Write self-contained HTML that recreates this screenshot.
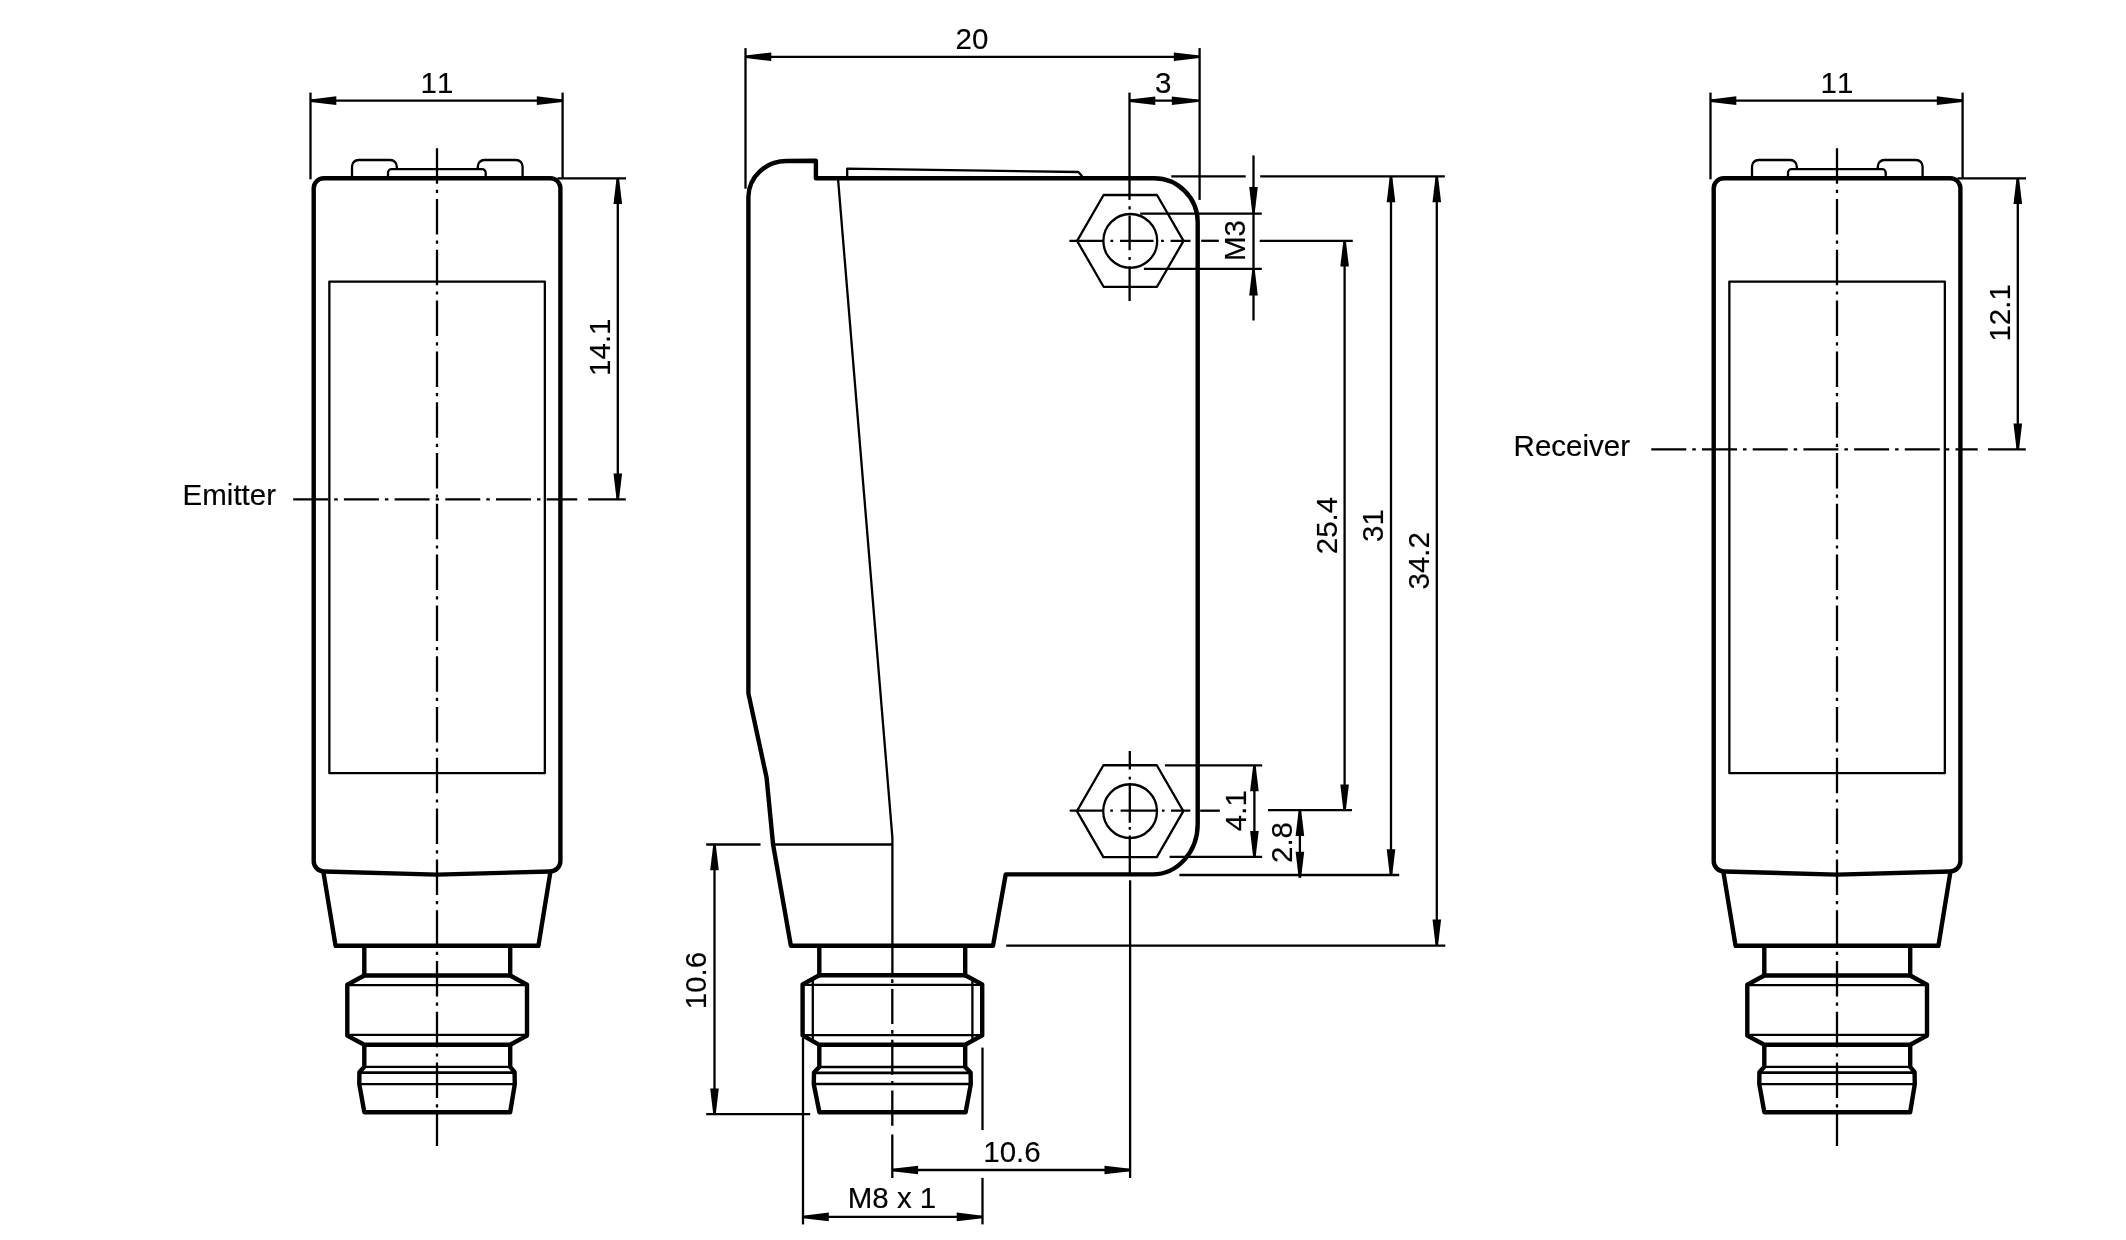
<!DOCTYPE html>
<html lang="en">
<head>
<meta charset="utf-8">
<title>Dimensions</title>
<style>
html,body{margin:0;padding:0;background:#fff;}
body{width:2126px;height:1240px;overflow:hidden;}
svg{display:block;filter:grayscale(1);}
.k{fill:none;stroke:#000;stroke-width:4.4;stroke-linejoin:round;stroke-linecap:butt;}
.m{fill:none;stroke:#000;stroke-width:2.7;}
.n{fill:none;stroke:#000;stroke-width:2.3;stroke-linejoin:round;stroke-linecap:butt;}
.a{fill:#000;stroke:none;}
text{font-family:"Liberation Sans",Arial,Helvetica,sans-serif;font-size:29.5px;fill:#000;stroke:#000;stroke-width:0.15px;font-kerning:none;}
</style>
</head>
<body>
<svg width="2126" height="1240" viewBox="0 0 2126 1240">
<rect x="0" y="0" width="2126" height="1240" fill="#fff"/>
<!-- left view -->
<line class="n" x1="310.50" y1="92.60" x2="310.50" y2="179.30"/>
<line class="n" x1="562.60" y1="92.60" x2="562.60" y2="179.00"/>
<line class="n" x1="310.50" y1="100.65" x2="562.60" y2="100.65"/>
<polygon class="a" points="310.50,99.40 310.50,101.90 336.30,104.95 336.30,96.35"/>
<polygon class="a" points="562.60,99.40 562.60,101.90 536.80,104.95 536.80,96.35"/>
<text x="437.00" y="92.80" text-anchor="middle">11</text>
<path class="n" d="M352.00,178 V166.5 A6.5,6.5 0 0 1 358.50,160 H390.30 A6.5,6.5 0 0 1 396.80,166.5 V168.5"/>
<path class="n" d="M477.80,168.5 V166.5 A6.5,6.5 0 0 1 484.30,160 H516.10 A6.5,6.5 0 0 1 522.60,166.5 V178"/>
<path class="n" d="M388.00,178 V172.7 A3.5,3.5 0 0 1 391.50,169.2 H482.20 A3.5,3.5 0 0 1 485.70,172.7 V178"/>
<path class="k" d="M313.70,188.3 A10,10 0 0 1 323.70,178.3 H550.40 A10,10 0 0 1 560.40,188.3 V861 A10.5,10.5 0 0 1 549.90,871.5 L437.00,874.6 L324.20,871.5 A10.5,10.5 0 0 1 313.70,861 Z"/>
<rect class="n" x="329.35" y="281.6" width="215.5" height="491.6"/>
<path class="k" d="M323.40,872.0 L335.60,945.8 H538.40 L550.40,872.0"/>
<path class="k" d="M364.30,945.8 V975.5 H510.20 V945.8"/>
<path class="k" d="M364.30,975.5 L347.30,984.7 V1035.6 L364.30,1044.8 H510.20 L527.00,1035.6 V984.7 L510.20,975.5"/>
<line class="n" x1="347.30" y1="985.10" x2="527.00" y2="985.10"/>
<line class="n" x1="347.30" y1="1034.90" x2="527.00" y2="1034.90"/>
<path class="k" d="M364.30,1044.8 V1066.8 L359.40,1072.2 L359.30,1084.2 L364.30,1112.2 H510.20 L514.80,1084.2 L514.60,1072.2 L510.20,1066.8 V1044.8"/>
<line class="n" x1="364.30" y1="1066.80" x2="510.20" y2="1066.80"/>
<line class="m" x1="359.40" y1="1072.70" x2="514.60" y2="1072.70"/>
<line class="n" x1="359.30" y1="1084.20" x2="514.80" y2="1084.20"/>
<line class="n" x1="437.00" y1="148.20" x2="437.00" y2="1146.00" stroke-dasharray="35.5 6.1 3.2 6.0" stroke-dashoffset="0"/>
<line class="n" x1="293.20" y1="499.30" x2="577.20" y2="499.30" stroke-dasharray="35 6 3.5 6.2" stroke-dashoffset="0"/>
<line class="n" x1="588.20" y1="499.30" x2="625.80" y2="499.30"/>
<text x="182.60" y="504.80" text-anchor="start">Emitter</text>
<line class="n" x1="557.50" y1="178.30" x2="626.00" y2="178.30"/>
<line class="n" x1="617.80" y1="178.30" x2="617.80" y2="499.30"/>
<polygon class="a" points="616.55,178.30 619.05,178.30 622.10,204.10 613.50,204.10"/>
<polygon class="a" points="616.55,499.30 619.05,499.30 622.10,473.50 613.50,473.50"/>
<text transform="translate(610.00 347.20) rotate(-90)" text-anchor="middle">14.1</text>
<!-- right view -->
<line class="n" x1="1710.50" y1="92.60" x2="1710.50" y2="179.30"/>
<line class="n" x1="1962.60" y1="92.60" x2="1962.60" y2="179.00"/>
<line class="n" x1="1710.50" y1="100.65" x2="1962.60" y2="100.65"/>
<polygon class="a" points="1710.50,99.40 1710.50,101.90 1736.30,104.95 1736.30,96.35"/>
<polygon class="a" points="1962.60,99.40 1962.60,101.90 1936.80,104.95 1936.80,96.35"/>
<text x="1837.00" y="92.80" text-anchor="middle">11</text>
<path class="n" d="M1752.00,178 V166.5 A6.5,6.5 0 0 1 1758.50,160 H1790.30 A6.5,6.5 0 0 1 1796.80,166.5 V168.5"/>
<path class="n" d="M1877.80,168.5 V166.5 A6.5,6.5 0 0 1 1884.30,160 H1916.10 A6.5,6.5 0 0 1 1922.60,166.5 V178"/>
<path class="n" d="M1788.00,178 V172.7 A3.5,3.5 0 0 1 1791.50,169.2 H1882.20 A3.5,3.5 0 0 1 1885.70,172.7 V178"/>
<path class="k" d="M1713.70,188.3 A10,10 0 0 1 1723.70,178.3 H1950.40 A10,10 0 0 1 1960.40,188.3 V861 A10.5,10.5 0 0 1 1949.90,871.5 L1837.00,874.6 L1724.20,871.5 A10.5,10.5 0 0 1 1713.70,861 Z"/>
<rect class="n" x="1729.35" y="281.6" width="215.5" height="491.6"/>
<path class="k" d="M1723.40,872.0 L1735.60,945.8 H1938.40 L1950.40,872.0"/>
<path class="k" d="M1764.30,945.8 V975.5 H1910.20 V945.8"/>
<path class="k" d="M1764.30,975.5 L1747.30,984.7 V1035.6 L1764.30,1044.8 H1910.20 L1927.00,1035.6 V984.7 L1910.20,975.5"/>
<line class="n" x1="1747.30" y1="985.10" x2="1927.00" y2="985.10"/>
<line class="n" x1="1747.30" y1="1034.90" x2="1927.00" y2="1034.90"/>
<path class="k" d="M1764.30,1044.8 V1066.8 L1759.40,1072.2 L1759.30,1084.2 L1764.30,1112.2 H1910.20 L1914.80,1084.2 L1914.60,1072.2 L1910.20,1066.8 V1044.8"/>
<line class="n" x1="1764.30" y1="1066.80" x2="1910.20" y2="1066.80"/>
<line class="m" x1="1759.40" y1="1072.70" x2="1914.60" y2="1072.70"/>
<line class="n" x1="1759.30" y1="1084.20" x2="1914.80" y2="1084.20"/>
<line class="n" x1="1837.00" y1="148.20" x2="1837.00" y2="1146.00" stroke-dasharray="35.5 6.1 3.2 6.0" stroke-dashoffset="0"/>
<line class="n" x1="1651.30" y1="449.40" x2="1977.70" y2="449.40" stroke-dasharray="35 6 3.5 6.2" stroke-dashoffset="0"/>
<line class="n" x1="1988.00" y1="449.40" x2="2025.80" y2="449.40"/>
<text x="1513.60" y="455.60" text-anchor="start">Receiver</text>
<line class="n" x1="1957.50" y1="178.30" x2="2026.00" y2="178.30"/>
<line class="n" x1="2017.80" y1="178.30" x2="2017.80" y2="449.40"/>
<polygon class="a" points="2016.55,178.30 2019.05,178.30 2022.10,204.10 2013.50,204.10"/>
<polygon class="a" points="2016.55,449.40 2019.05,449.40 2022.10,423.60 2013.50,423.60"/>
<text transform="translate(2010.00 312.90) rotate(-90)" text-anchor="middle">12.1</text>
<!-- centre view -->
<line class="n" x1="745.50" y1="48.10" x2="745.50" y2="188.70"/>
<line class="n" x1="1199.60" y1="48.10" x2="1199.60" y2="199.90"/>
<line class="n" x1="745.50" y1="56.80" x2="1199.60" y2="56.80"/>
<polygon class="a" points="745.50,55.55 745.50,58.05 771.30,61.10 771.30,52.50"/>
<polygon class="a" points="1199.60,55.55 1199.60,58.05 1173.80,61.10 1173.80,52.50"/>
<text x="972.00" y="48.70" text-anchor="middle">20</text>
<line class="n" x1="1129.50" y1="100.70" x2="1199.60" y2="100.70"/>
<polygon class="a" points="1129.50,99.45 1129.50,101.95 1155.30,105.00 1155.30,96.40"/>
<polygon class="a" points="1197.60,99.45 1197.60,101.95 1171.80,105.00 1171.80,96.40"/>
<text x="1163.20" y="92.70" text-anchor="middle">3</text>
<path class="k" d="M748.4,693.4 V197.0 A38.2,36.0 0 0 1 786.6,161.0 L815.9,160.7 V178.3 H1154 A43.7,43.7 0 0 1 1197.7,222 V824 A45,50.4 0 0 1 1152.7,874.4 H1005.7 L993.0,945.8 H790.9 L773.1,844.7 L766.6,777.7 Z"/>
<path class="n" d="M847.2,177 V168.7 L1078.4,172 L1082.3,176.5"/>
<path class="n" d="M838,178.3 L892.4,837.6 V975"/>
<line class="n" x1="773.10" y1="844.50" x2="892.40" y2="844.50"/>
<path class="k" d="M819.3,945.8 V975.2 H965.2 V945.8"/>
<path class="k" d="M819.3,975.2 L802.6,984.4 V1035.4 L819.3,1044.8 H965.2 L982.2,1035.4 V984.4 L965.2,975.2"/>
<line class="n" x1="802.60" y1="984.90" x2="982.20" y2="984.90"/>
<line class="n" x1="802.60" y1="1035.10" x2="982.20" y2="1035.10"/>
<line class="n" x1="812.80" y1="978.60" x2="812.80" y2="1041.20"/>
<line class="n" x1="972.40" y1="978.90" x2="972.40" y2="1040.80"/>
<path class="k" d="M819.3,1044.8 V1067.0 L814.0,1072.5 L813.8,1084.2 L819.4,1112.3 H965.6 L970.8,1084.2 L970.6,1072.5 L965.2,1067.0 V1044.8"/>
<line class="n" x1="819.30" y1="1067.00" x2="965.20" y2="1067.00"/>
<line class="m" x1="814.00" y1="1072.90" x2="970.60" y2="1072.90"/>
<line class="n" x1="813.80" y1="1084.00" x2="970.80" y2="1084.00"/>
<line class="n" x1="892.30" y1="979.30" x2="892.30" y2="1125.90" stroke-dasharray="3.6 6.05 35.1 6.05" stroke-dashoffset="0"/>
<line class="n" x1="892.30" y1="1134.50" x2="892.30" y2="1178.00"/>
<path class="n" d="M1077.10,240.90 L1103.60,195.00 H1157.00 L1183.50,240.90 L1157.00,286.80 H1103.60 Z"/>
<circle class="n" cx="1130.30" cy="240.90" r="26.9"/>
<path class="n" d="M1076.90,811.15 L1103.40,765.25 H1156.80 L1183.30,811.15 L1156.80,857.05 H1103.40 Z"/>
<circle class="n" cx="1130.10" cy="811.15" r="26.9"/>
<line class="n" x1="1129.50" y1="92.60" x2="1129.50" y2="199.90"/>
<line class="n" x1="1129.60" y1="206.20" x2="1129.60" y2="301.60" stroke-dasharray="3.2 6.2 34.6 6.7" stroke-dashoffset="0"/>
<line class="n" x1="1069.40" y1="240.80" x2="1190.50" y2="240.80" stroke-dasharray="33.5 7.5 2.8 6.8" stroke-dashoffset="0"/>
<line class="n" x1="1201.20" y1="240.80" x2="1218.80" y2="240.80"/>
<line class="n" x1="1259.70" y1="240.80" x2="1352.80" y2="240.80"/>
<line class="n" x1="1140.20" y1="213.60" x2="1261.80" y2="213.60"/>
<line class="n" x1="1143.90" y1="268.80" x2="1261.80" y2="268.80"/>
<line class="n" x1="1253.50" y1="155.40" x2="1253.50" y2="320.50"/>
<polygon class="a" points="1252.25,212.80 1254.75,212.80 1257.80,187.00 1249.20,187.00"/>
<polygon class="a" points="1252.25,269.60 1254.75,269.60 1257.80,295.40 1249.20,295.40"/>
<text transform="translate(1245.20 240.60) rotate(-90)" text-anchor="middle">M3</text>
<line class="n" x1="1171.30" y1="176.40" x2="1245.70" y2="176.40"/>
<line class="n" x1="1260.20" y1="176.40" x2="1444.80" y2="176.40"/>
<line class="n" x1="1344.60" y1="240.80" x2="1344.60" y2="810.20"/>
<polygon class="a" points="1343.35,240.80 1345.85,240.80 1348.90,266.60 1340.30,266.60"/>
<polygon class="a" points="1343.35,810.20 1345.85,810.20 1348.90,784.40 1340.30,784.40"/>
<text transform="translate(1336.50 525.50) rotate(-90)" text-anchor="middle">25.4</text>
<line class="n" x1="1391.00" y1="176.40" x2="1391.00" y2="875.00"/>
<polygon class="a" points="1389.75,176.40 1392.25,176.40 1395.30,202.20 1386.70,202.20"/>
<polygon class="a" points="1389.75,875.00 1392.25,875.00 1395.30,849.20 1386.70,849.20"/>
<text transform="translate(1383.00 525.50) rotate(-90)" text-anchor="middle">31</text>
<line class="n" x1="1436.80" y1="176.40" x2="1436.80" y2="945.40"/>
<polygon class="a" points="1435.55,176.40 1438.05,176.40 1441.10,202.20 1432.50,202.20"/>
<polygon class="a" points="1435.55,945.40 1438.05,945.40 1441.10,919.60 1432.50,919.60"/>
<text transform="translate(1429.00 560.80) rotate(-90)" text-anchor="middle">34.2</text>
<line class="n" x1="1129.80" y1="751.00" x2="1129.80" y2="873.00" stroke-dasharray="18.5 7.3 2.6 4.5 38.9 4.3 2.7 5.7 40 0" stroke-dashoffset="0"/>
<line class="n" x1="1130.10" y1="880.30" x2="1130.10" y2="1178.00"/>
<line class="n" x1="1069.70" y1="810.70" x2="1190.30" y2="810.70" stroke-dasharray="33 7.6 2.6 7.7 35.5 5.8 2.6 6.5 30 0" stroke-dashoffset="0"/>
<line class="n" x1="1200.20" y1="810.70" x2="1219.80" y2="810.70"/>
<line class="n" x1="1268.00" y1="810.20" x2="1352.00" y2="810.20"/>
<line class="n" x1="1164.90" y1="765.40" x2="1262.20" y2="765.40"/>
<line class="n" x1="1169.60" y1="856.90" x2="1262.20" y2="856.90"/>
<line class="n" x1="1254.40" y1="765.40" x2="1254.40" y2="856.90"/>
<polygon class="a" points="1253.15,765.40 1255.65,765.40 1258.70,791.20 1250.10,791.20"/>
<polygon class="a" points="1253.15,856.90 1255.65,856.90 1258.70,831.10 1250.10,831.10"/>
<text transform="translate(1246.30 810.70) rotate(-90)" text-anchor="middle">4.1</text>
<line class="n" x1="1299.90" y1="810.20" x2="1299.90" y2="877.80"/>
<polygon class="a" points="1298.65,810.20 1301.15,810.20 1304.20,836.00 1295.60,836.00"/>
<polygon class="a" points="1298.65,877.60 1301.15,877.60 1304.20,851.80 1295.60,851.80"/>
<text transform="translate(1292.40 842.50) rotate(-90)" text-anchor="middle">2.8</text>
<line class="n" x1="1179.40" y1="875.00" x2="1399.20" y2="875.00"/>
<line class="n" x1="1006.20" y1="945.60" x2="1445.30" y2="945.60"/>
<line class="n" x1="706.20" y1="844.50" x2="760.50" y2="844.50"/>
<line class="n" x1="706.20" y1="1114.20" x2="810.20" y2="1114.20"/>
<line class="n" x1="714.50" y1="844.50" x2="714.50" y2="1114.20"/>
<polygon class="a" points="713.25,844.50 715.75,844.50 718.80,870.30 710.20,870.30"/>
<polygon class="a" points="713.25,1114.20 715.75,1114.20 718.80,1088.40 710.20,1088.40"/>
<text transform="translate(705.80 980.50) rotate(-90)" text-anchor="middle">10.6</text>
<line class="n" x1="892.30" y1="1170.00" x2="1130.30" y2="1170.00"/>
<polygon class="a" points="892.30,1168.75 892.30,1171.25 918.10,1174.30 918.10,1165.70"/>
<polygon class="a" points="1130.30,1168.75 1130.30,1171.25 1104.50,1174.30 1104.50,1165.70"/>
<text x="1012.00" y="1161.60" text-anchor="middle">10.6</text>
<line class="n" x1="803.00" y1="1038.00" x2="803.00" y2="1224.40"/>
<line class="n" x1="982.50" y1="1047.60" x2="982.50" y2="1130.00"/>
<line class="n" x1="982.50" y1="1177.90" x2="982.50" y2="1224.40"/>
<line class="n" x1="803.00" y1="1216.90" x2="982.50" y2="1216.90"/>
<polygon class="a" points="803.00,1215.65 803.00,1218.15 828.80,1221.20 828.80,1212.60"/>
<polygon class="a" points="982.50,1215.65 982.50,1218.15 956.70,1221.20 956.70,1212.60"/>
<text x="892.00" y="1207.80" text-anchor="middle">M8 x 1</text>
</svg>
</body>
</html>
